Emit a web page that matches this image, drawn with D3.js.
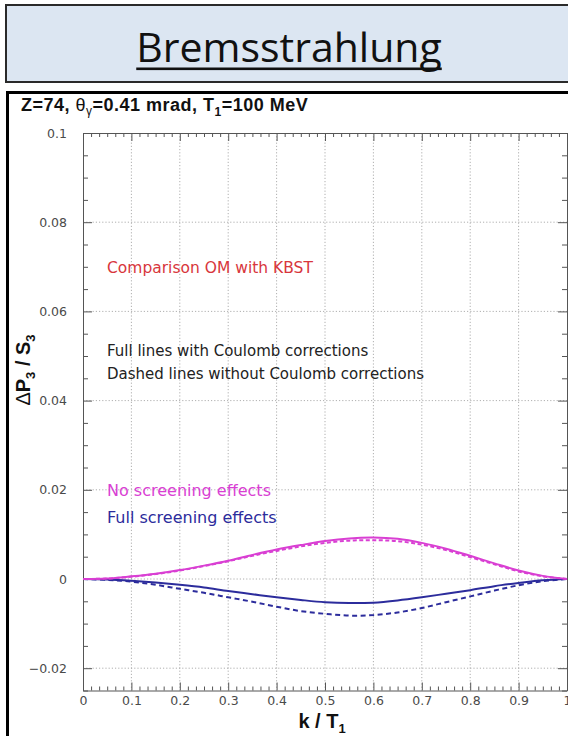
<!DOCTYPE html>
<html>
<head>
<meta charset="utf-8">
<script src="https://cdn.jsdelivr.net/npm/d3@7"></script>
<style>
  html, body { margin: 0; padding: 0; background: #fff; overflow: hidden; }
  svg { display: block; }
</style>
</head>
<body>
<div id="chart"></div>
<script>
// Photon energy fraction k / T1
const kValues = [0, 0.05, 0.1, 0.15, 0.2, 0.25, 0.3, 0.35, 0.4, 0.45, 0.5,
                 0.55, 0.6, 0.65, 0.7, 0.75, 0.8, 0.85, 0.9, 0.95, 1];

// ΔP3 / S3 — no screening, with Coulomb corrections (solid magenta)
const noScreenCoulomb = [0, 0.0001, 0.0006, 0.0012, 0.0020, 0.0030, 0.0041, 0.0054, 0.0066, 0.0076, 0.0085,
                         0.0091, 0.0093, 0.0090, 0.0081, 0.0068, 0.0052, 0.0035, 0.0019, 0.0007, 0];
// no screening, without Coulomb corrections (dashed magenta)
const noScreenPlain = [0, 0.0001, 0.0005, 0.0011, 0.0019, 0.0029, 0.0040, 0.0052, 0.0063, 0.0073, 0.0081,
                       0.0086, 0.0087, 0.0085, 0.0077, 0.0065, 0.0049, 0.0033, 0.0017, 0.0006, 0];
// full screening, with Coulomb corrections (solid blue)
const fullScreenCoulomb = [0, -0.0001, -0.0004, -0.0008, -0.0013, -0.0019, -0.0027, -0.0034, -0.0041, -0.0047, -0.0052,
                           -0.0054, -0.0053, -0.0048, -0.0041, -0.0033, -0.0025, -0.0016, -0.0009, -0.0003, 0];
// full screening, without Coulomb corrections (dashed blue)
const fullScreenPlain = [0, -0.0002, -0.0006, -0.0013, -0.0022, -0.0031, -0.0041, -0.0051, -0.0062, -0.0072, -0.0078,
                         -0.0082, -0.0081, -0.0075, -0.0065, -0.0052, -0.0039, -0.0026, -0.0014, -0.0005, 0];

const xTickValues = [0, 0.1, 0.2, 0.3, 0.4, 0.5, 0.6, 0.7, 0.8, 0.9, 1];
const xTickLabels = ["0", "0.1", "0.2", "0.3", "0.4", "0.5", "0.6", "0.7", "0.8", "0.9", "1"];
const yTickValues = [-0.02, 0, 0.02, 0.04, 0.06, 0.08, 0.1];
const yTickLabels = ["\u22120.02", "0", "0.02", "0.04", "0.06", "0.08", "0.1"];

const W = 568, H = 736;
const MAGENTA = "#d93fd3", BLUE = "#2c2c9c", RED = "#d8363c";

const svg = d3.select("#chart").append("svg")
  .attr("width", W).attr("height", H);

// Slide heading box
svg.append("rect")
  .attr("x", 6).attr("y", 5).attr("width", W + 10).attr("height", 77)
  .attr("fill", "#dce6f2").attr("stroke", "#2a2a2a").attr("stroke-width", 2);
const heading = svg.append("text")
  .attr("x", 289).attr("y", 62)
  .attr("text-anchor", "middle")
  .attr("font-family", "'Open Sans', sans-serif")
  .attr("font-size", 41)
  .attr("fill", "#111")
  .text("Bremsstrahlung");
const hb = heading.node().getBBox();
svg.append("rect")
  .attr("x", hb.x).attr("y", 67.5).attr("width", hb.width).attr("height", 2.6)
  .attr("fill", "#111");

// Figure frame
svg.append("path")
  .attr("d", `M7.5,${H + 2} V92.5 H${W + 2}`)
  .attr("fill", "none").attr("stroke", "#000").attr("stroke-width", 3);

// Plot header
const header = svg.append("text")
  .attr("x", 21).attr("y", 111)
  .attr("font-family", "'Liberation Sans', Arial, sans-serif")
  .attr("font-weight", "bold").attr("font-size", 18).attr("letter-spacing", 0.5)
  .attr("fill", "#111");
header.append("tspan").text("Z=74, ");
header.append("tspan").attr("font-weight", "normal").text("\u03b8");
header.append("tspan").attr("font-size", 12).attr("font-weight", "normal").attr("dy", 4).text("\u03b3");
header.append("tspan").attr("dy", -4).text("=0.41 mrad, T");
header.append("tspan").attr("font-size", 12).attr("dy", 5).text("1");
header.append("tspan").attr("dy", -5).text("=100 MeV");

// Plot area
const plotLeft = 83, plotRight = 567, plotTop = 133, plotBottom = 690.5;
const x = d3.scaleLinear().domain([0, 1]).range([plotLeft, plotRight]);
const y = d3.scaleLinear().domain([-0.025, 0.1]).range([plotBottom, plotTop]);

const g = svg.append("g");

// Dotted grid at major ticks
g.append("g").selectAll("line").data(xTickValues.slice(1, -1)).join("line")
  .attr("x1", d => x(d)).attr("x2", d => x(d))
  .attr("y1", plotTop).attr("y2", plotBottom)
  .attr("stroke", "#9a9a9a").attr("stroke-width", 0.8).attr("stroke-dasharray", "1.2,2");
g.append("g").selectAll("line").data(yTickValues.filter(v => v > -0.025 && v < 0.1)).join("line")
  .attr("x1", plotLeft).attr("x2", plotRight)
  .attr("y1", d => y(d)).attr("y2", d => y(d))
  .attr("stroke", "#9a9a9a").attr("stroke-width", 0.8).attr("stroke-dasharray", "1.2,2");

// Axes with inward ticks
const xMinor = d3.range(0, 60.5).map(i => i / 60).filter(v => Math.abs(v * 10 - Math.round(v * 10)) > 1e-6);
const yMinor = d3.range(-0.025, 0.1001, 0.005).filter(v => Math.abs(v / 0.02 - Math.round(v / 0.02)) > 1e-6);

function styleAxis(sel) {
  sel.select(".domain").attr("stroke", "#555").attr("stroke-width", 1);
  sel.selectAll(".tick line").attr("stroke", "#555").attr("stroke-width", 1);
  sel.selectAll(".tick text")
    .attr("font-family", "'DejaVu Sans', sans-serif")
    .attr("font-size", 12.5).attr("fill", "#4a4a4a");
}
function minorStyle(s) {
  s.select(".domain").remove();
  s.selectAll("line").attr("stroke", "#555");
}

const xAxisBottom = g.append("g").attr("transform", `translate(0,${plotBottom})`)
  .call(d3.axisBottom(x).tickValues(xTickValues).tickSizeInner(-8).tickSizeOuter(0)
        .tickPadding(6).tickFormat((d, i) => xTickLabels[i]));
styleAxis(xAxisBottom);
g.append("g").attr("transform", `translate(0,${plotBottom})`)
  .call(d3.axisBottom(x).tickValues(xMinor).tickSizeInner(-4).tickSizeOuter(0).tickFormat(""))
  .call(minorStyle);

const xAxisTop = g.append("g").attr("transform", `translate(0,${plotTop})`)
  .call(d3.axisTop(x).tickValues(xTickValues).tickSizeInner(-8).tickSizeOuter(0).tickFormat(""));
styleAxis(xAxisTop);
g.append("g").attr("transform", `translate(0,${plotTop})`)
  .call(d3.axisTop(x).tickValues(xMinor).tickSizeInner(-4).tickSizeOuter(0).tickFormat(""))
  .call(minorStyle);

const yAxisLeft = g.append("g").attr("transform", `translate(${plotLeft},0)`)
  .call(d3.axisLeft(y).tickValues(yTickValues).tickSizeInner(-9).tickSizeOuter(0)
        .tickPadding(16).tickFormat((d, i) => yTickLabels[i]));
styleAxis(yAxisLeft);
g.append("g").attr("transform", `translate(${plotLeft},0)`)
  .call(d3.axisLeft(y).tickValues(yMinor).tickSizeInner(-5).tickSizeOuter(0).tickFormat(""))
  .call(minorStyle);

const yAxisRight = g.append("g").attr("transform", `translate(${plotRight},0)`)
  .call(d3.axisRight(y).tickValues(yTickValues).tickSizeInner(-9).tickSizeOuter(0).tickFormat(""));
styleAxis(yAxisRight);
g.append("g").attr("transform", `translate(${plotRight},0)`)
  .call(d3.axisRight(y).tickValues(yMinor).tickSizeInner(-5).tickSizeOuter(0).tickFormat(""))
  .call(minorStyle);

// Curves
const line = d3.line().x(d => x(d[0])).y(d => y(d[1])).curve(d3.curveCatmullRom.alpha(0.5));
const series = [
  { values: fullScreenPlain, color: BLUE, dash: "5,3.5", width: 2 },
  { values: fullScreenCoulomb, color: BLUE, dash: null, width: 2 },
  { values: noScreenPlain, color: MAGENTA, dash: "4,2.5", width: 2 },
  { values: noScreenCoulomb, color: MAGENTA, dash: null, width: 2 }
];
g.append("g").selectAll("path").data(series).join("path")
  .attr("d", s => line(kValues.map((k, i) => [k, s.values[i]])))
  .attr("fill", "none")
  .attr("stroke", s => s.color)
  .attr("stroke-width", s => s.width)
  .attr("stroke-dasharray", s => s.dash);

// Annotations
const noteFont = "'DejaVu Sans', sans-serif";
const notes = [
  { text: "Comparison OM with KBST", y: 273, color: RED, size: 15.5 },
  { text: "Full lines with Coulomb corrections", y: 356, color: "#222", size: 15 },
  { text: "Dashed lines without Coulomb corrections", y: 379, color: "#222", size: 15 },
  { text: "No screening effects", y: 496, color: MAGENTA, size: 16 },
  { text: "Full screening effects", y: 523, color: BLUE, size: 16 }
];
g.append("g").selectAll("text").data(notes).join("text")
  .attr("x", 107).attr("y", d => d.y)
  .attr("font-family", noteFont).attr("font-size", d => d.size)
  .attr("fill", d => d.color)
  .text(d => d.text);

// Axis titles
const xTitle = svg.append("text")
  .attr("x", 322).attr("y", 728)
  .attr("text-anchor", "middle")
  .attr("font-family", "'Liberation Sans', Arial, sans-serif")
  .attr("font-weight", "bold").attr("font-size", 20).attr("fill", "#111");
xTitle.append("tspan").text("k / T");
xTitle.append("tspan").attr("font-size", 13).attr("dy", 5).text("1");

const yTitle = svg.append("text")
  .attr("transform", "translate(30,370) rotate(-90)")
  .attr("text-anchor", "middle")
  .attr("font-family", "'Liberation Sans', Arial, sans-serif")
  .attr("font-weight", "bold").attr("font-size", 20).attr("fill", "#111");
yTitle.append("tspan").attr("font-weight", "normal").text("\u0394");
yTitle.append("tspan").text("P");
yTitle.append("tspan").attr("font-size", 13).attr("dy", 5).text("3");
yTitle.append("tspan").attr("dy", -5).text(" / S");
yTitle.append("tspan").attr("font-size", 13).attr("dy", 5).text("3");
</script>
</body>
</html>
